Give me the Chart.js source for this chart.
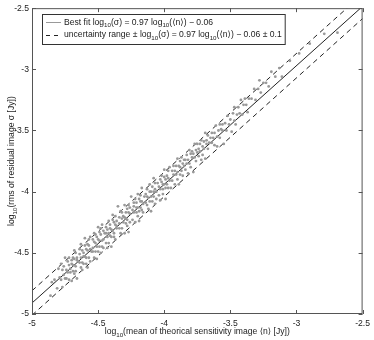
<!DOCTYPE html>
<html>
<head>
<meta charset="utf-8">
<script src="https://cdn.jsdelivr.net/npm/chart.js"></script>
<style>
  body { margin: 0; background: #fff; }
</style>
</head>
<body>
<canvas id="grafica" width="374" height="340"></canvas>
<script>
// log10 of mean theoretical sensitivity <n> (x) and log10 of rms residual sigma (y)
const meanSens = [
  -4.86, -4.85,
  -4.83, -4.81, -4.80, -4.79, -4.78, -4.78, -4.77, -4.77, -4.76, -4.76, -4.75, -4.75,
  -4.74, -4.74, -4.73, -4.73, -4.72, -4.72, -4.72, -4.71, -4.71, -4.70, -4.70, -4.70, -4.69, -4.69, -4.69, -4.68, -4.68, -4.68, -4.67, -4.67, -4.67, -4.66, -4.66, -4.66, -4.65,
  -4.64, -4.64, -4.64, -4.63, -4.63, -4.63, -4.62, -4.62, -4.62, -4.61, -4.61, -4.61, -4.60, -4.60, -4.60, -4.59, -4.59, -4.59, -4.58, -4.58, -4.58, -4.57, -4.57, -4.57, -4.56, -4.56, -4.56, -4.55,
  -4.54, -4.54, -4.54, -4.53, -4.53, -4.53, -4.52, -4.52, -4.52, -4.51, -4.51, -4.51, -4.50, -4.50, -4.50, -4.49, -4.49, -4.49, -4.48, -4.48, -4.48, -4.47, -4.47, -4.47, -4.46, -4.46, -4.46, -4.45,
  -4.44, -4.44, -4.44, -4.43, -4.43, -4.43, -4.42, -4.42, -4.42, -4.41, -4.41, -4.41, -4.40, -4.40, -4.40, -4.39, -4.39, -4.39, -4.38, -4.38, -4.38, -4.37, -4.37, -4.37, -4.36, -4.36, -4.36, -4.35,
  -4.34, -4.34, -4.34, -4.33, -4.33, -4.32, -4.32, -4.32, -4.31, -4.31, -4.30, -4.30, -4.30, -4.29, -4.29, -4.29, -4.28, -4.28, -4.28, -4.27, -4.27, -4.27, -4.26, -4.26, -4.26, -4.25,
  -4.24, -4.24, -4.23, -4.23, -4.23, -4.22, -4.22, -4.21, -4.21, -4.21, -4.20, -4.20, -4.20, -4.19, -4.19, -4.19, -4.18, -4.18, -4.18, -4.17, -4.17, -4.17, -4.16, -4.16, -4.15,
  -4.14, -4.14, -4.13, -4.13, -4.13, -4.12, -4.12, -4.11, -4.11, -4.11, -4.10, -4.10, -4.10, -4.09, -4.09, -4.08, -4.08, -4.08, -4.07, -4.07, -4.07, -4.06, -4.06, -4.05,
  -4.04, -4.04, -4.03, -4.03, -4.03, -4.02, -4.02, -4.01, -4.01, -4.01, -4.00, -4.00, -4.00, -3.99, -3.99, -3.99, -3.98, -3.98, -3.97, -3.97, -3.97, -3.96, -3.96, -3.95,
  -3.94, -3.94, -3.93, -3.93, -3.92, -3.92, -3.91, -3.91, -3.90, -3.90, -3.90, -3.89, -3.89, -3.88, -3.88, -3.88, -3.87, -3.87, -3.86, -3.86, -3.85, -3.85,
  -3.84, -3.84, -3.83, -3.83, -3.82, -3.82, -3.81, -3.81, -3.80, -3.80, -3.79, -3.79, -3.78, -3.78, -3.77, -3.77, -3.76, -3.76, -3.75, -3.75,
  -3.74, -3.74, -3.73, -3.73, -3.72, -3.72, -3.71, -3.71, -3.70, -3.70, -3.69, -3.69, -3.68, -3.68, -3.67, -3.67, -3.66, -3.65,
  -3.64, -3.64, -3.63, -3.62, -3.62, -3.61, -3.60, -3.60, -3.59, -3.58, -3.58, -3.57, -3.56, -3.56, -3.55,
  -3.54, -3.53, -3.52, -3.51, -3.50, -3.49, -3.48, -3.47, -3.47, -3.46, -3.45,
  -3.44, -3.43, -3.42, -3.41, -3.40, -3.39, -3.38, -3.37, -3.36,
  -3.34, -3.32, -3.31, -3.29, -3.28, -3.27, -3.25,
  -3.23, -3.21, -3.19, -3.16, -3.13, -3.11,
  -3.05, -2.98, -2.90, -2.79, -2.69
];
const rmsResid = [
  -4.85, -4.74,
  -4.72, -4.79, -4.63, -4.70, -4.72, -4.59, -4.64, -4.78, -4.68, -4.61, -4.71, -4.54,
  -4.64, -4.71, -4.57, -4.66, -4.60, -4.72, -4.54, -4.63, -4.66, -4.56, -4.73, -4.59, -4.54, -4.65, -4.60, -4.67, -4.48, -4.55, -4.61, -4.50, -4.65, -4.56, -4.71, -4.54, -4.57,
  -4.51, -4.58, -4.47, -4.62, -4.54, -4.43, -4.58, -4.48, -4.64, -4.50, -4.53, -4.59, -4.44, -4.53, -4.38, -4.59, -4.47, -4.54, -4.43, -4.62, -4.48, -4.39, -4.54, -4.44, -4.57, -4.47, -4.37, -4.49,
  -4.49, -4.39, -4.46, -4.54, -4.34, -4.41, -4.49, -4.35, -4.42, -4.55, -4.37, -4.45, -4.29, -4.49, -4.39, -4.33, -4.45, -4.40, -4.50, -4.30, -4.35, -4.45, -4.40, -4.27, -4.39, -4.32, -4.46, -4.34,
  -4.34, -4.42, -4.29, -4.37, -4.46, -4.31, -4.34, -4.24, -4.42, -4.30, -4.36, -4.27, -4.45, -4.31, -4.37, -4.23, -4.32, -4.19, -4.37, -4.25, -4.34, -4.27, -4.39, -4.20, -4.30, -4.24, -4.28, -4.12,
  -4.30, -4.21, -4.26, -4.34, -4.16, -4.22, -4.30, -4.17, -4.25, -4.20, -4.34, -4.21, -4.11, -4.26, -4.17, -4.22, -4.28, -4.14, -4.23, -4.11, -4.33, -4.17, -4.18, -4.13, -4.25, -4.04,
  -4.15, -4.23, -4.09, -4.17, -4.12, -4.25, -4.06, -4.17, -4.13, -4.09, -4.20, -4.02, -4.13, -4.16, -4.06, -4.24, -4.08, -4.13, -4.03, -4.15, -4.08, -3.97, -4.10, -4.17, -4.04,
  -4.09, -4.02, -4.11, -4.04, -3.98, -4.14, -4.05, -4.00, -4.08, -3.94, -4.04, -4.16, -4.00, -4.08, -3.96, -4.00, -4.04, -3.89, -4.10, -3.98, -3.93, -4.00, -4.06, -3.93,
  -3.96, -4.03, -3.90, -3.98, -4.07, -3.92, -3.87, -3.98, -3.94, -4.02, -3.88, -3.94, -3.82, -3.97, -3.90, -4.06, -3.87, -3.94, -3.83, -3.97, -3.89, -3.80, -3.91, -3.97,
  -3.83, -3.91, -3.86, -3.79, -3.94, -3.83, -3.86, -3.79, -3.90, -3.73, -3.84, -3.79, -3.94, -3.80, -3.75, -3.86, -3.72, -3.83, -3.77, -3.87, -3.74, -3.79,
  -3.82, -3.74, -3.77, -3.70, -3.85, -3.74, -3.66, -3.77, -3.69, -3.80, -3.72, -3.67, -3.84, -3.69, -3.72, -3.61, -3.75, -3.66, -3.68, -3.61,
  -3.65, -3.71, -3.61, -3.67, -3.74, -3.58, -3.63, -3.70, -3.59, -3.65, -3.52, -3.73, -3.61, -3.58, -3.65, -3.54, -3.60, -3.56,
  -3.60, -3.52, -3.56, -3.62, -3.52, -3.46, -3.55, -3.63, -3.50, -3.45, -3.56, -3.49, -3.45, -3.50, -3.61,
  -3.44, -3.50, -3.38, -3.45, -3.41, -3.51, -3.36, -3.42, -3.31, -3.45, -3.37,
  -3.31, -3.36, -3.25, -3.37, -3.29, -3.24, -3.29, -3.35, -3.24,
  -3.24, -3.16, -3.25, -3.16, -3.09, -3.19, -3.11,
  -3.11, -3.14, -3.02, -3.06, -2.99, -3.06,
  -2.93, -2.87, -2.79, -2.71, -2.70
];

// best fit log10(sigma) = 0.97 log10(<n>) - 0.06, and the +/- 0.1 band, at the axis ends
const lineX = [-5, -2.5];
const bestFitY = [-4.91, -2.485];
const upperY = [-4.81, -2.385];
const lowerY = [-5.01, -2.585];

const xTicks = [-5, -4.5, -4, -3.5, -3, -2.5];
const yTicks = [-5, -4.5, -4, -3.5, -3, -2.5];

const legendLines = [
  'Best fit log_{10}(σ) = 0.97 log_{10}(⟨n⟩) − 0.06',
  'uncertainty range ± log_{10}(σ) = 0.97 log_{10}(⟨n⟩) − 0.06 ± 0.1'
];
const xTitle = 'log_{10}(mean of theorical sensitivity image ⟨n⟩ [Jy])';
const yTitle = 'log_{10}(rms of residual image σ [Jy])';

const FONT = '"Liberation Sans", Arial, "DejaVu Sans", sans-serif';
const SIZE = 8.6;

function pares(xs, ys) {
  return xs.map((x, i) => ({ x: x, y: ys[i] }));
}

// text with _{..} subscripts
function textoSub(ctx, s, x, y, size, align) {
  const parts = s.split(/(_\{[^}]*\})/).filter(p => p.length).map(p => {
    const sub = p.startsWith('_{');
    return { t: sub ? p.slice(2, -1) : p, sub: sub };
  });
  let w = 0;
  parts.forEach(p => {
    ctx.font = (p.sub ? size * 0.72 : size) + 'px ' + FONT;
    p.w = ctx.measureText(p.t).width;
    w += p.w;
  });
  let cx = align === 'center' ? x - w / 2 : x;
  ctx.textAlign = 'left';
  ctx.textBaseline = 'alphabetic';
  parts.forEach(p => {
    ctx.font = (p.sub ? size * 0.72 : size) + 'px ' + FONT;
    ctx.fillText(p.t, cx, p.sub ? y + size * 0.32 : y);
    cx += p.w;
  });
  return w;
}

const marco = {
  id: 'marco',
  afterDraw(chart) {
    const { ctx, chartArea: a, scales } = chart;
    ctx.save();
    // box and inward ticks
    ctx.strokeStyle = '#555';
    ctx.lineWidth = 1;
    ctx.strokeRect(a.left + 0.5, a.top + 0.5, a.right - a.left - 1, a.bottom - a.top - 1);
    ctx.beginPath();
    xTicks.forEach(v => {
      const px = Math.round(scales.x.getPixelForValue(v)) + 0.5;
      ctx.moveTo(px, a.bottom); ctx.lineTo(px, a.bottom - 4);
      ctx.moveTo(px, a.top); ctx.lineTo(px, a.top + 4);
    });
    yTicks.forEach(v => {
      const py = Math.round(scales.y.getPixelForValue(v)) + 0.5;
      ctx.moveTo(a.left, py); ctx.lineTo(a.left + 4, py);
      ctx.moveTo(a.right, py); ctx.lineTo(a.right - 4, py);
    });
    ctx.stroke();

    // axis titles
    ctx.fillStyle = '#222';
    textoSub(ctx, xTitle, (a.left + a.right) / 2, 334, SIZE, 'center');
    ctx.save();
    ctx.translate(14, (a.top + a.bottom) / 2);
    ctx.rotate(-Math.PI / 2);
    textoSub(ctx, yTitle, 0, 0, SIZE, 'center');
    ctx.restore();

    // legend
    const lx = 42, ly = 14, tx = 64;
    let maxW = 0;
    ctx.font = SIZE + 'px ' + FONT;
    ctx.fillStyle = '#fff';
    ctx.fillRect(lx, ly, 245, 30);
    ctx.fillStyle = '#222';
    legendLines.forEach((s, i) => {
      const w = textoSub(ctx, s, tx, ly + 10.5 + i * 12.5, SIZE, 'left');
      maxW = Math.max(maxW, w);
    });
    ctx.strokeStyle = '#333';
    ctx.strokeRect(lx + 0.5, ly + 0.5, tx + maxW + 3 - lx, 30);
    ctx.beginPath();
    ctx.strokeStyle = '#999';
    ctx.moveTo(46, ly + 8.5); ctx.lineTo(61, ly + 8.5);
    ctx.stroke();
    ctx.beginPath();
    ctx.strokeStyle = '#222';
    ctx.setLineDash([4, 4]);
    ctx.moveTo(46, ly + 21.5); ctx.lineTo(62, ly + 21.5);
    ctx.stroke();
    ctx.restore();
  }
};

const myChart = new Chart(document.getElementById('grafica'), {
  type: 'scatter',
  data: {
    datasets: [
      {
        label: 'data',
        data: pares(meanSens, rmsResid),
        backgroundColor: '#999',
        borderWidth: 0,
        pointRadius: 1.4
      },
      {
        label: 'Best fit',
        data: pares(lineX, bestFitY),
        showLine: true,
        borderColor: '#222',
        borderWidth: 1,
        pointRadius: 0
      },
      {
        label: 'upper',
        data: pares(lineX, upperY),
        showLine: true,
        borderColor: '#222',
        borderWidth: 1,
        borderDash: [5, 4],
        pointRadius: 0
      },
      {
        label: 'lower',
        data: pares(lineX, lowerY),
        showLine: true,
        borderColor: '#222',
        borderWidth: 1,
        borderDash: [5, 4],
        pointRadius: 0
      }
    ]
  },
  options: {
    responsive: false,
    animation: false,
    devicePixelRatio: 1,
    layout: { padding: { top: 7, right: 8, left: 0, bottom: 0 } },
    plugins: {
      legend: { display: false },
      tooltip: { enabled: false }
    },
    scales: {
      x: {
        type: 'linear',
        min: -5,
        max: -2.5,
        grid: { display: false, drawTicks: false },
        border: { display: false },
        afterBuildTicks: s => { s.ticks = xTicks.map(v => ({ value: v })); },
        afterFit: s => { s.height = 26; },
        ticks: {
          padding: 4,
          color: '#222',
          font: { family: FONT, size: SIZE },
          maxRotation: 0,
          callback: v => String(v)
        }
      },
      y: {
        type: 'linear',
        min: -5,
        max: -2.5,
        grid: { display: false, drawTicks: false },
        border: { display: false },
        afterBuildTicks: s => { s.ticks = yTicks.map(v => ({ value: v })); },
        afterFit: s => { s.width = 32; },
        ticks: {
          padding: 3,
          color: '#222',
          font: { family: FONT, size: SIZE },
          callback: v => String(v)
        }
      }
    }
  },
  plugins: [marco]
});
</script>
</body>
</html>
